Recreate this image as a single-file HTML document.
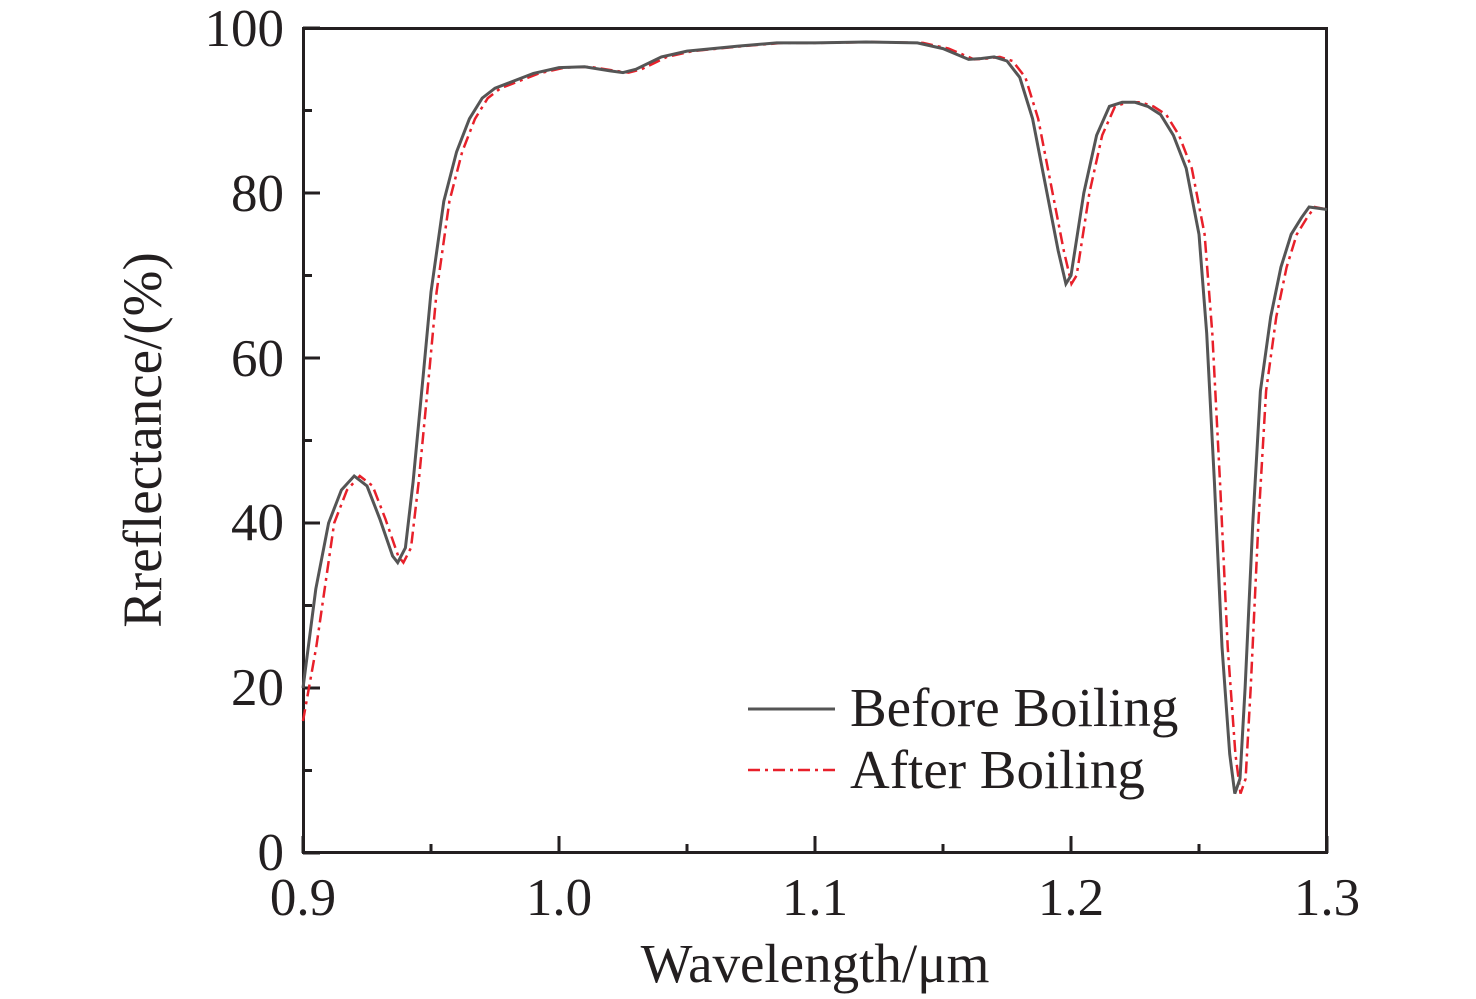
<!DOCTYPE html>
<html><head><meta charset="utf-8"><style>
html,body{margin:0;padding:0;background:#fff;}
svg{display:block;}
text{font-family:"Liberation Serif",serif;fill:#231f20;}
</style></head><body>
<svg id="s" width="1476" height="999" viewBox="0 0 1476 999">
<rect x="303.5" y="28.5" width="1023" height="824" fill="none" stroke="#231f20" stroke-width="3"/>
<g id="ticks" stroke="#231f20" stroke-width="3"></g>
<g font-size="53" text-anchor="end">
<text x="284" y="870">0</text><text x="284" y="705">20</text><text x="284" y="540">40</text>
<text x="284" y="376">60</text><text x="284" y="211">80</text><text x="284" y="46">100</text>
</g>
<g font-size="53" text-anchor="middle">
<text x="303" y="915">0.9</text><text x="559" y="915">1.0</text><text x="815" y="915">1.1</text>
<text x="1071" y="915">1.2</text><text x="1327" y="915">1.3</text>
</g>
<text x="815" y="982" font-size="55" text-anchor="middle">Wavelength/μm</text>
<text transform="translate(161,440) rotate(-90)" font-size="55" text-anchor="middle">Rreflectance/(%)</text>
<path id="red" fill="none" stroke="#e8202a" stroke-width="2.5" stroke-dasharray="12,5,3,5"/>
<path id="gray" fill="none" stroke="#555" stroke-width="3"/>
<line x1="748" y1="709" x2="835" y2="709" stroke="#555" stroke-width="3"/>
<line x1="748" y1="770" x2="835" y2="770" stroke="#e8202a" stroke-width="2.5" stroke-dasharray="12,5,3,5"/>
<text x="850" y="726" font-size="55">Before Boiling</text>
<text x="850" y="788" font-size="55">After Boiling</text>
</svg>
<script>
var X=function(w){return 303+(w-0.9)*2560}, Y=function(v){return 853-v*8.25};
var t=document.getElementById('ticks'),h='';
for(var i=0;i<=8;i++){var x=303+i*128;var L=i%2?9:17;h+='<line x1="'+x+'" y1="853" x2="'+x+'" y2="'+(853-L)+'"/>';}
for(var i=0;i<=10;i++){var y=853-i*82.5;var L=i%2?9:17;h+='<line x1="303" y1="'+y+'" x2="'+(303+L)+'" y2="'+y+'"/>';}
t.innerHTML=h;
var d=[[0.900,20],[0.905,32],[0.910,40],[0.915,44],[0.920,45.7],[0.925,44.5],[0.930,40.5],[0.935,36],[0.937,35.2],[0.940,37],[0.943,45],[0.947,58],[0.950,68],[0.955,79],[0.960,85],[0.965,89],[0.970,91.5],[0.975,92.7],[0.980,93.3],[0.990,94.5],[1.000,95.2],[1.010,95.3],[1.020,94.8],[1.025,94.6],[1.030,95],[1.040,96.5],[1.050,97.2],[1.070,97.8],[1.085,98.2],[1.100,98.2],[1.120,98.3],[1.140,98.2],[1.150,97.5],[1.160,96.2],[1.165,96.3],[1.170,96.5],[1.175,96],[1.180,94],[1.185,89],[1.190,81],[1.195,73],[1.198,69],[1.200,70],[1.205,80],[1.210,87],[1.215,90.5],[1.220,91],[1.225,91],[1.230,90.5],[1.235,89.5],[1.240,87],[1.245,83],[1.250,75],[1.253,63],[1.256,45],[1.259,25],[1.262,12],[1.264,7.2],[1.266,9],[1.268,20],[1.271,40],[1.274,56],[1.278,65],[1.282,71],[1.286,75],[1.290,77],[1.293,78.3],[1.300,78]];
function path(arr,sh){var s='';arr.forEach(function(p,i){var w=Math.min(1.3,p[0]+(i>0?sh:0));s+=(i?'L':'M')+X(w).toFixed(1)+','+Y(p[1]).toFixed(1);});return s;}
document.getElementById('gray').setAttribute('d',path(d,0));
var r=d.map(function(p){return [p[0],p[1]]});r[0]=[0.9,16];r[1]=[0.903,25];
document.getElementById('red').setAttribute('d',path(r,0.0022));
</script>
</body></html>
